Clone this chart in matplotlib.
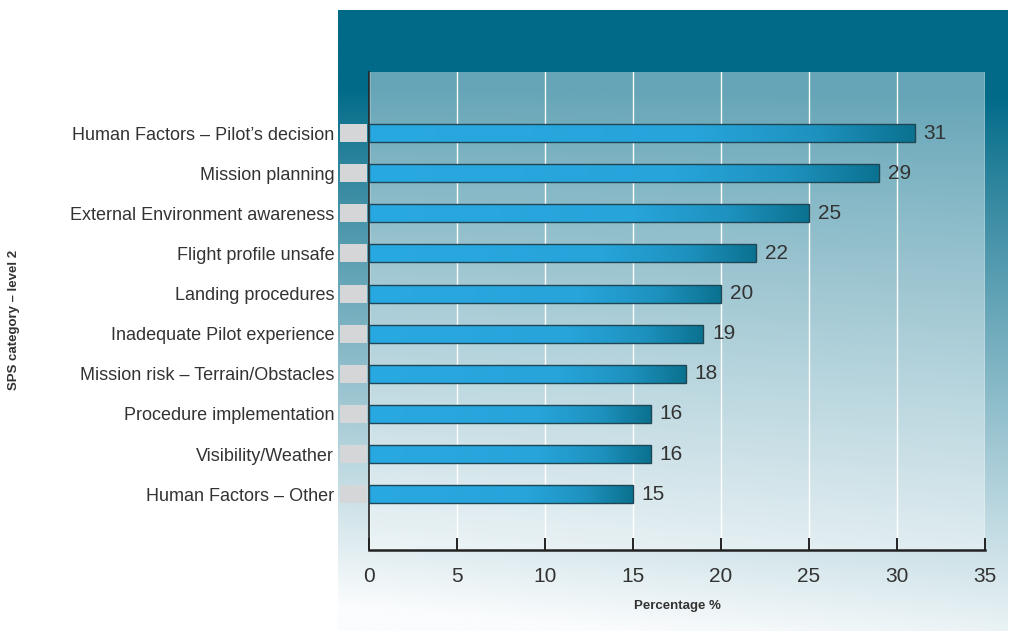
import numpy as np
import matplotlib
matplotlib.use("Agg")
import matplotlib.pyplot as plt
from matplotlib.colors import LinearSegmentedColormap
from matplotlib.patches import Rectangle

# data
categories = ["Human Factors \u2013 Pilot\u2019s decision", "Mission planning",
              "External Environment awareness", "Flight profile unsafe",
              "Landing procedures", "Inadequate Pilot experience",
              "Mission risk \u2013 Terrain/Obstacles", "Procedure implementation",
              "Visibility/Weather", "Human Factors \u2013 Other"]
values = [31, 29, 25, 22, 20, 19, 18, 16, 16, 15]
xticks = [0, 5, 10, 15, 20, 25, 30, 35]

plt.rcParams['font.family'] = ['Liberation Sans', 'DejaVu Sans']
txt = '#333333'

W, H = 1009, 631
fig = plt.figure(figsize=(W / 100, H / 100), dpi=100)

# background panel with gradient
bg = fig.add_axes([338 / W, 0, (1008 - 338) / W, (631 - 10) / H])
bg.axis('off')
ny, nx = 200, 100
yy = np.linspace(0, 1, ny)[:, None]   # 0 top, 1 bottom
xx = np.linspace(0, 1, nx)[None, :]
t = np.clip(yy * 1.2 - 0.15 - 0.12 * xx * yy, 0, 1) ** 0.9
top = np.array([0, 106, 136]) / 255
bot = np.array([250, 252, 253]) / 255
img = top[None, None, :] * (1 - t[..., None]) + bot[None, None, :] * t[..., None]
bg.imshow(img, aspect='auto', extent=[0, 1, 0, 1], interpolation='bilinear')
bg.set_xlim(0, 1)
bg.set_ylim(0, 1)

# plot area
ax = fig.add_axes([369 / W, (631 - 550) / H, (985 - 369) / W, (550 - 72) / H])
ax.patch.set_facecolor('white')
ax.patch.set_alpha(0.4)

y = np.arange(len(categories))
bh = 0.45
bar_cmap = LinearSegmentedColormap.from_list(
    'bar', [(0, '#29a9e1'), (0.6, '#27a4da'), (0.82, '#1e92bf'), (1, '#0b7290')])
grad = np.linspace(0, 1, 256)[None, :]
for yi, v in zip(y, values):
    r = Rectangle((0, yi - bh / 2), v, bh, facecolor='none',
                  edgecolor='#1f4655', linewidth=1.0, zorder=4)
    ax.add_patch(r)
    im = ax.imshow(grad, cmap=bar_cmap, aspect='auto',
                   extent=[0, v, yi + bh / 2, yi - bh / 2], zorder=3,
                   interpolation='bilinear')
    im.set_clip_path(r)
    # grey tab at left
    ax.add_patch(Rectangle((-1.65, yi - bh / 2), 1.54, bh, facecolor='#d4d6d8',
                           edgecolor='none', clip_on=False, zorder=3))
    ax.text(v + 0.5, yi, str(v), va='center', ha='left', fontsize=15,
            color=txt, zorder=5)

ax.set_xlim(0, 35)
ax.set_ylim(len(categories) - 1 + 1.39, -1.52)
ax.set_xticks(xticks)
ax.set_xticklabels([str(x) for x in xticks], fontsize=15, color=txt)
ax.set_yticks(y)
ax.set_yticklabels(categories, fontsize=13, color=txt)
ax.tick_params(axis='y', length=0, pad=25)
ax.tick_params(axis='x', direction='in', length=9, width=1.4, color='#222222', pad=12)
ax.grid(axis='x', color='white', linewidth=1.0, zorder=1)
ax.set_axisbelow(True)
for s in ['top', 'right']:
    ax.spines[s].set_visible(False)
ax.spines['left'].set_color('#222222')
ax.spines['bottom'].set_color('#222222')
ax.spines['bottom'].set_linewidth(1.8)
ax.spines['left'].set_linewidth(1.2)

fig.text(677 / W, 1 - 606 / H, 'Percentage %', ha='center', va='center',
         fontsize=9.5, fontweight='bold', color=txt)
fig.text(14 / W, 1 - 320 / H, 'SPS category \u2013 level 2', ha='center', va='center',
         rotation=90, fontsize=9.5, fontweight='bold', color=txt)

fig.savefig('out.png', dpi=100)
